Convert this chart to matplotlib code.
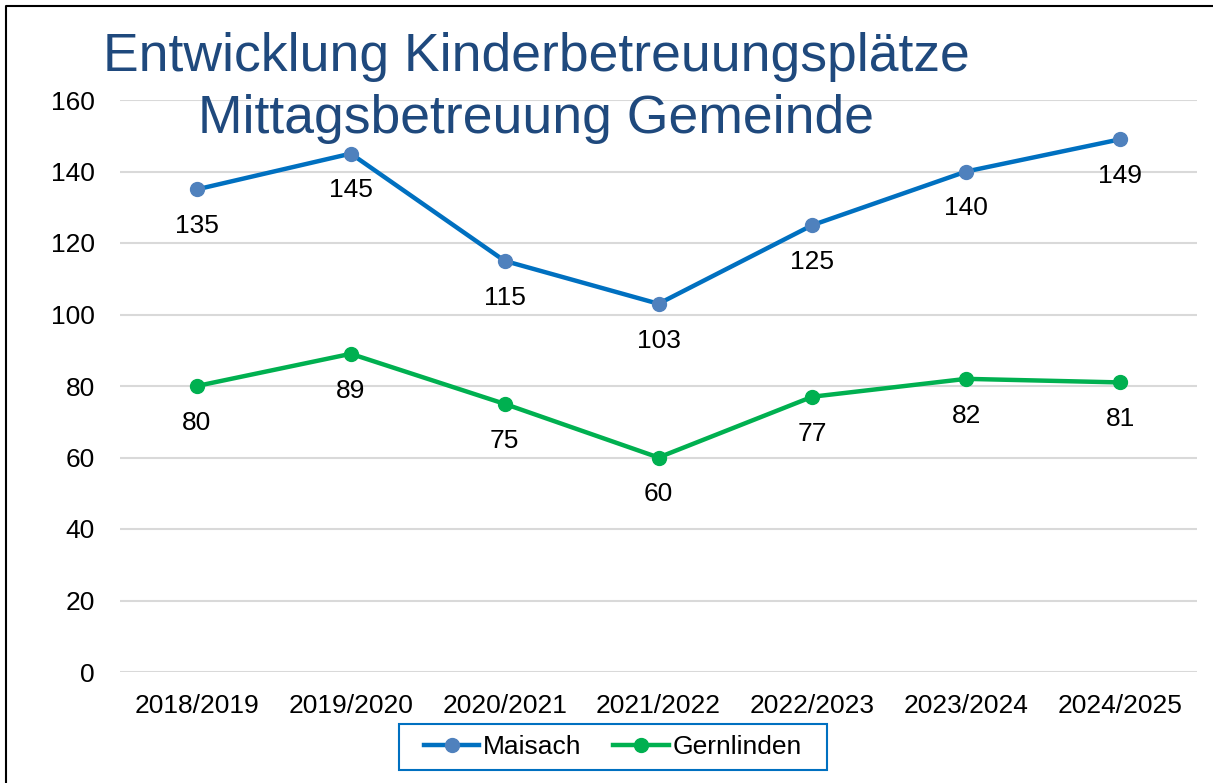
import matplotlib.pyplot as plt
from matplotlib.lines import Line2D
from matplotlib.patches import Rectangle

# Daten
jahre = ['2018/2019', '2019/2020', '2020/2021', '2021/2022', '2022/2023', '2023/2024', '2024/2025']
maisach = [135, 145, 115, 103, 125, 140, 149]
gernlinden = [80, 89, 75, 60, 77, 82, 81]

plt.rcParams['font.family'] = ['Liberation Sans', 'DejaVu Sans']

W, H = 1213, 783
fig = plt.figure(figsize=(W / 100, H / 100), dpi=100)
ax = fig.add_axes([120/W, 1 - 672/H, (1197 - 120)/W, (672 - 100)/H])

x = list(range(len(jahre)))
ax.plot(x, maisach, color='#0070C0', lw=3.2, marker='o', ms=10,
        mfc='#4F81BD', mec='#4F81BD', label='Maisach', zorder=3)
ax.plot(x, gernlinden, color='#00B050', lw=3.2, marker='o', ms=10,
        mfc='#00B050', mec='#00B050', label='Gernlinden', zorder=3)

for i in x:
    ax.annotate(str(maisach[i]), (i, maisach[i]), xytext=(0, -26.5), textcoords='offset points',
                ha='center', va='center', fontsize=19, color='black')
    ax.annotate(str(gernlinden[i]), (i, gernlinden[i]), xytext=(0, -26.5), textcoords='offset points',
                ha='center', va='center', fontsize=19, color='black')

ax.set_xlim(-0.5, len(jahre) - 0.5)
ax.set_ylim(0, 160)
ax.set_yticks(range(0, 161, 20))
ax.set_xticks(x)
ax.set_xticklabels(jahre)
ax.tick_params(axis='both', length=0, labelsize=19)
ax.tick_params(axis='x', pad=15.5)
ax.tick_params(axis='y', pad=18)
ax.grid(axis='y', color='#D9D9D9', lw=1.5)
ax.set_axisbelow(True)
for s in ax.spines.values():
    s.set_visible(False)

fig.text(536/W, 1 - 57/H, 'Entwicklung Kinderbetreuungsplätze', ha='center', va='center',
         fontsize=38.5, color='#1F497D')
fig.text(536/W, 1 - 119/H, 'Mittagsbetreuung Gemeinde', ha='center', va='center',
         fontsize=38.5, color='#1F497D')

# Legende ohne eigenen Rahmen, Rahmen separat
fig.legend(loc='center', bbox_to_anchor=(613/W, 1 - 747/H), ncol=2, fontsize=19,
           frameon=False, handlelength=2.1, columnspacing=1.2, borderpad=0.2,
           handletextpad=0.15)
fig.patches.append(Rectangle((399/W, 1 - 770/H), 428/W, 46/H, transform=fig.transFigure,
                             fill=False, edgecolor='#0070C0', lw=1.5))

# Rahmen oben und links
fig.lines.append(Line2D([6/W, 6/W, 1.0], [0, 1 - 6/H, 1 - 6/H],
                        transform=fig.transFigure, color='black', lw=1.5))

plt.savefig('out.png', dpi=100)
